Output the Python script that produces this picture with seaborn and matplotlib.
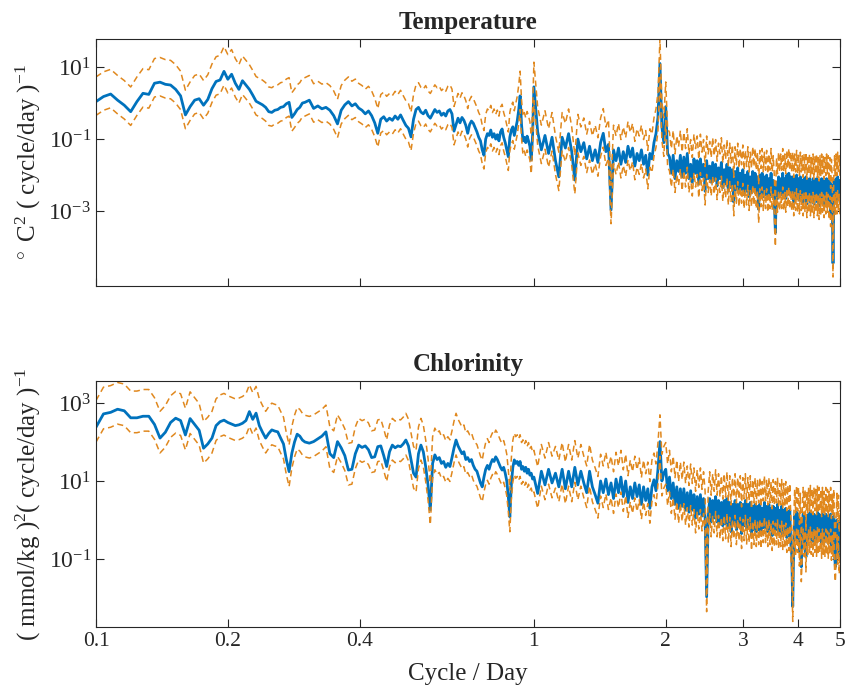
import numpy as np
import pandas as pd
import matplotlib
matplotlib.use("Agg")
import matplotlib.pyplot as plt
from matplotlib.ticker import NullLocator
import seaborn as sns

# frequency grid (cycle/day) in three stretches
freq_low = [0.100, 0.104, 0.108, 0.112, 0.116, 0.120, 0.124, 0.128, 0.132, 0.136,
            0.140, 0.144, 0.148, 0.152, 0.156, 0.160, 0.164, 0.168, 0.172, 0.176,
            0.180, 0.184, 0.188, 0.192, 0.196, 0.200, 0.204, 0.208, 0.212, 0.216,
            0.220, 0.224, 0.228, 0.232, 0.236, 0.240, 0.244, 0.248, 0.252, 0.256,
            0.260, 0.264, 0.268, 0.272, 0.276, 0.280, 0.284, 0.288, 0.292, 0.296]
freq_mid = [0.300, 0.307, 0.314, 0.321, 0.328, 0.335, 0.342, 0.349, 0.356, 0.363,
            0.370, 0.377, 0.384, 0.391, 0.398, 0.405, 0.412, 0.419, 0.426, 0.433,
            0.440, 0.447, 0.454, 0.461, 0.468, 0.475, 0.482, 0.489, 0.496, 0.503,
            0.510, 0.517, 0.524, 0.531, 0.538, 0.545, 0.552, 0.559, 0.566, 0.573,
            0.580, 0.587, 0.594, 0.601, 0.608, 0.615, 0.622, 0.629, 0.636, 0.643,
            0.650, 0.657, 0.664, 0.671, 0.678, 0.685, 0.692, 0.699, 0.706, 0.713,
            0.720, 0.727, 0.734, 0.741, 0.748, 0.755, 0.762, 0.769, 0.776, 0.783,
            0.790, 0.797, 0.804, 0.811, 0.818, 0.825, 0.832, 0.839, 0.846, 0.853,
            0.860, 0.867, 0.874, 0.881, 0.888, 0.895, 0.902, 0.909, 0.916, 0.923,
            0.930, 0.937, 0.944, 0.951, 0.958, 0.965, 0.972, 0.979, 0.986, 0.993]
freq_high = [1.00, 1.02, 1.04, 1.06, 1.08, 1.10, 1.12, 1.14, 1.16, 1.18,
             1.20, 1.22, 1.24, 1.26, 1.28, 1.30, 1.32, 1.34, 1.36, 1.38,
             1.40, 1.42, 1.44, 1.46, 1.48, 1.50, 1.52, 1.54, 1.56, 1.58,
             1.60, 1.62, 1.64, 1.66, 1.68, 1.70, 1.72, 1.74, 1.76, 1.78,
             1.80, 1.82, 1.84, 1.86, 1.88, 1.90, 1.92, 1.94, 1.96, 1.98,
             2.00, 2.02, 2.04, 2.06, 2.08, 2.10, 2.12, 2.14, 2.16, 2.18,
             2.20, 2.22, 2.24, 2.26, 2.28, 2.30, 2.32, 2.34, 2.36, 2.38,
             2.40, 2.42, 2.44, 2.46, 2.48, 2.50, 2.52, 2.54, 2.56, 2.58,
             2.60, 2.62, 2.64, 2.66, 2.68, 2.70, 2.72, 2.74, 2.76, 2.78,
             2.80, 2.82, 2.84, 2.86, 2.88, 2.90, 2.92, 2.94, 2.96, 2.98,
             3.00, 3.02, 3.04, 3.06, 3.08, 3.10, 3.12, 3.14, 3.16, 3.18,
             3.20, 3.22, 3.24, 3.26, 3.28, 3.30, 3.32, 3.34, 3.36, 3.38,
             3.40, 3.42, 3.44, 3.46, 3.48, 3.50, 3.52, 3.54, 3.56, 3.58,
             3.60, 3.62, 3.64, 3.66, 3.68, 3.70, 3.72, 3.74, 3.76, 3.78,
             3.80, 3.82, 3.84, 3.86, 3.88, 3.90, 3.92, 3.94, 3.96, 3.98,
             4.00, 4.02, 4.04, 4.06, 4.08, 4.10, 4.12, 4.14, 4.16, 4.18,
             4.20, 4.22, 4.24, 4.26, 4.28, 4.30, 4.32, 4.34, 4.36, 4.38,
             4.40, 4.42, 4.44, 4.46, 4.48, 4.50, 4.52, 4.54, 4.56, 4.58,
             4.60, 4.62, 4.64, 4.66, 4.68, 4.70, 4.72, 4.74, 4.76, 4.78,
             4.80, 4.82, 4.84, 4.86, 4.88, 4.90, 4.92, 4.94, 4.96, 4.98,
             5.00]

# temperature spectrum, log10(degC^2 per cycle/day)
temp_low = [0.04, 0.18, 0.25, 0.08, -0.06, -0.24, 0.04, 0.27, 0.24, 0.55,
            0.58, 0.52, 0.50, 0.38, 0.20, -0.33, -0.10, 0.08, 0.12, -0.06,
            0.10, 0.40, 0.60, 0.64, 0.88, 0.66, 0.80, 0.55, 0.38, 0.62,
            0.50, 0.38, 0.22, 0.05, 0.00, -0.05, -0.12, -0.24, -0.26, -0.20,
            -0.18, -0.12, -0.10, -0.02, 0.02, -0.40, -0.30, -0.18, -0.12, 0.00]
temp_mid = [0.02, 0.08, -0.15, -0.08, -0.16, -0.12, -0.20, -0.35, -0.58, -0.20,
            -0.05, 0.04, -0.08, -0.02, -0.14, -0.20, -0.30, -0.22, -0.35, -0.55,
            -0.84, -0.45, -0.38, -0.50, -0.42, -0.48, -0.36, -0.45, -0.33, -0.48,
            -0.62, -0.70, -0.94, -0.45, -0.18, -0.12, -0.25, -0.30, -0.20, -0.35,
            -0.42, -0.30, -0.18, -0.26, -0.22, -0.34, -0.28, -0.36, -0.22, -0.18,
            -0.30, -0.78, -0.60, -0.42, -0.55, -0.40, -0.48, -0.62, -0.84, -0.60,
            -0.50, -0.56, -0.68, -0.80, -0.95, -1.05, -1.30, -1.45, -1.00, -0.85,
            -0.90, -0.75, -0.95, -0.85, -1.00, -0.88, -1.05, -0.80, -0.72, -0.95,
            -1.10, -1.30, -1.49, -0.95, -0.75, -0.66, -0.90, -0.70, -0.50, -0.20,
            0.20, -0.60, -1.05, -0.95, -1.10, -0.92, -1.05, -1.20, -1.58, -0.90]
temp_high = [0.45, -0.80, -1.30, -0.90, -1.40, -0.95, -1.60, -2.05, -0.95, -1.25,
             -0.85, -1.35, -2.14, -1.00, -1.35, -1.10, -1.55, -1.20, -1.60, -1.30,
             -1.65, -1.10, -0.84, -1.35, -1.15, -2.97, -1.30, -1.60, -1.25, -1.70,
             -1.35, -1.65, -1.20, -1.50, -1.25, -1.75, -1.40, -1.60, -1.30, -1.70,
             -1.45, -2.00, -1.40, -1.55, -1.10, -0.85, -0.40, 1.10, -0.66, -1.10,
             -0.10, -1.40, -1.50, -1.95, -1.45, -2.10, -1.60, -1.90, -1.45, -2.05,
             -1.50, -1.95, -1.40, -2.10, -1.70, -2.20, -1.55, -1.95, -1.60, -2.25,
             -1.55, -2.05, -1.70, -2.45, -1.60, -2.10, -1.75, -2.20, -1.65, -2.15,
             -1.70, -2.30, -1.80, -2.10, -1.65, -2.35, -1.85, -2.25, -1.70, -2.45,
             -1.80, -2.35, -1.85, -2.75, -1.90, -2.40, -1.80, -2.50, -1.95, -2.40,
             -1.85, -2.55, -2.00, -2.45, -1.90, -2.60, -2.05, -2.50, -1.90, -2.45,
             -1.95, -2.55, -2.05, -2.95, -2.00, -2.50, -1.95, -2.60, -2.05, -2.55,
             -2.00, -2.65, -2.10, -2.55, -1.95, -2.60, -2.15, -2.70, -3.60, -2.20,
             -2.65, -2.05, -2.60, -2.10, -2.55, -1.95, -2.60, -2.10, -2.65, -2.00,
             -2.50, -1.95, -2.55, -2.05, -2.60, -2.05, -2.75, -2.10, -2.60, -2.00,
             -2.65, -2.10, -2.70, -2.05, -2.60, -2.15, -2.75, -2.10, -2.65, -2.05,
             -2.80, -2.15, -2.65, -2.10, -2.75, -2.20, -2.70, -2.10, -2.80, -2.15,
             -2.65, -2.10, -2.75, -2.20, -2.85, -2.15, -2.70, -2.10, -2.65, -2.15,
             -2.80, -2.20, -2.70, -2.10, -2.65, -2.15, -2.85, -2.20, -3.05, -2.25,
             -2.80, -4.45, -2.70, -2.15, -2.75, -2.10, -2.70, -2.05, -2.65, -2.15,
             -2.75]

# chlorinity spectrum, log10((mmol/kg)^2 per cycle/day)
chl_low = [2.38, 2.72, 2.76, 2.84, 2.80, 2.62, 2.62, 2.66, 2.66, 2.45,
           2.10, 2.25, 2.50, 2.61, 2.55, 2.18, 2.60, 2.45, 2.30, 1.84,
           1.95, 2.10, 2.42, 2.52, 2.56, 2.50, 2.46, 2.42, 2.44, 2.48,
           2.55, 2.78, 2.58, 2.74, 2.42, 2.25, 2.10, 2.22, 2.31, 2.28,
           2.26, 2.10, 1.95, 1.55, 1.24, 1.71, 2.00, 2.20, 2.15, 2.05]
chl_mid = [2.00, 1.97, 2.01, 2.08, 2.15, 2.26, 1.70, 1.60, 2.01, 1.85,
           1.65, 1.28, 1.30, 1.70, 1.92, 1.86, 1.90, 1.80, 1.60, 1.62,
           1.88, 1.90, 1.65, 1.37, 1.75, 1.92, 1.85, 1.90, 1.88, 1.95,
           2.05, 1.90, 1.55, 1.20, 1.10, 1.70, 1.92, 1.75, 1.37, 0.90,
           0.26, 1.45, 1.67, 1.55, 1.60, 1.45, 1.50, 1.35, 1.45, 1.37,
           1.60, 1.85, 2.05, 1.90, 1.80, 1.70, 1.75, 1.55, 1.60, 1.50,
           1.55, 1.40, 1.30, 1.25, 1.10, 0.95, 0.85, 1.10, 1.30, 1.40,
           1.30, 1.45, 1.55, 1.50, 1.62, 1.55, 1.45, 1.35, 1.28, 1.35,
           1.20, 1.00, 0.60, 0.08, 0.90, 1.35, 1.54, 1.45, 1.50, 1.40,
           1.50, 1.30, 1.37, 1.25, 1.35, 1.20, 1.30, 1.15, 1.20, 1.05]
chl_high = [1.10, 0.68, 1.25, 0.90, 1.30, 0.95, 1.20, 0.85, 1.30, 0.80,
            1.25, 0.85, 1.35, 0.90, 1.25, 0.95, 0.70, 1.25, 0.85, 0.65,
            0.43, 1.00, 0.70, 1.05, 0.65, 0.95, 0.55, 1.05, 0.70, 1.10,
            0.60, 1.00, 0.45, 0.85, 0.55, 0.95, 0.60, 0.90, 0.40, 0.85,
            0.50, 0.80, 0.30, 0.85, 1.03, 0.75, 1.30, 2.01, 1.00, 1.20,
            1.30, 0.75, 1.10, 0.55, 0.95, 0.40, 0.85, 0.30, 0.80, 0.35,
            0.80, 0.25, 0.70, 0.20, 0.75, 0.25, 0.65, 0.05, 0.60, 0.15,
            0.65, 0.10, 0.55, 0.05, -1.97, 0.05, 0.55, -0.05, 0.50, 0.05,
            0.60, -0.05, 0.50, -0.10, 0.45, -0.15, 0.50, -0.10, 0.55, -0.20,
            0.45, -0.30, 0.40, -0.10, 0.50, -0.25, 0.40, -0.15, 0.45, -0.35,
            0.40, -0.15, 0.50, -0.25, 0.40, -0.20, 0.45, -0.40, 0.35, -0.25,
            0.40, -0.30, 0.35, -0.25, 0.40, -0.35, 0.30, -0.20, 0.45, -0.20,
            0.35, -0.30, 0.40, -0.25, 0.30, -0.40, 0.35, -0.30, 0.30, -0.25,
            0.40, -0.35, 0.25, -0.30, 0.35, -0.40, 0.25, -0.35, 0.30, -0.45,
            0.20, -0.40, 0.25, -0.60, -0.90, -2.22, -0.70, 0.10, -0.50, 0.20,
            -0.45, 0.15, -0.80, 0.00, -1.20, -0.50, 0.15, -0.55, 0.10, -0.95,
            0.05, -0.50, 0.15, -0.45, 0.20, -0.50, 0.10, -0.55, 0.15, -0.45,
            0.10, -0.55, 0.20, -0.50, 0.15, -0.45, 0.10, -0.60, 0.15, -0.50,
            0.05, -0.55, 0.15, -0.50, 0.10, -0.60, 0.05, -0.50, 0.15, -0.65,
            0.00, -0.55, 0.10, -0.90, -1.20, -0.60, 0.00, -0.75, -0.05, -1.00,
            -0.43]

# 95% confidence band as ratio to the estimate
ci_upper_ratio = 4.85
ci_lower_ratio = 0.415

x_ticks = [0.1, 0.2, 0.4, 1, 2, 3, 4, 5]
x_ticklabels = ["0.1", "0.2", "0.4", "1", "2", "3", "4", "5"]
temp_yticks = [1e-3, 1e-1, 1e1]
temp_yticklabels = [r"$10^{-3}$", r"$10^{-1}$", r"$10^{1}$"]
chl_yticks = [1e-1, 1e1, 1e3]
chl_yticklabels = [r"$10^{-1}$", r"$10^{1}$", r"$10^{3}$"]

blue = "#0072BD"
orange = "#E0881E"

freq = freq_low + freq_mid + freq_high

sns.set_style("ticks")
plt.rcParams["font.family"] = ["Liberation Serif", "DejaVu Serif"]
plt.rcParams["mathtext.fontset"] = "custom"
plt.rcParams["mathtext.rm"] = "Liberation Serif"
plt.rcParams["mathtext.it"] = "Liberation Serif:italic"
plt.rcParams["mathtext.bf"] = "Liberation Serif:bold"

fig = plt.figure(figsize=(8.52, 6.93), dpi=100)
ax_top = fig.add_axes([0.1127, 0.5873, 0.8732, 0.3564])
ax_bot = fig.add_axes([0.1127, 0.0952, 0.8732, 0.3550])

panels = [
    (ax_top, temp_low + temp_mid + temp_high, "Temperature", (8.3e-6, 60),
     temp_yticks, temp_yticklabels, r"$^\circ$ C$^2$ ( cycle/day )$^{-1}$"),
    (ax_bot, chl_low + chl_mid + chl_high, "Chlorinity", (1.8e-3, 3660),
     chl_yticks, chl_yticklabels, r"( mmol/kg )$^2$( cycle/day )$^{-1}$"),
]

for ax, log_psd, title, ylim, yticks, yticklabels, ylabel in panels:
    psd = 10 ** np.array(log_psd)
    df = pd.DataFrame({"freq": freq, "psd": psd,
                       "upper": psd * ci_upper_ratio,
                       "lower": psd * ci_lower_ratio})
    sns.lineplot(data=df, x="freq", y="psd", ax=ax, color=blue, linewidth=2.0)
    sns.lineplot(data=df, x="freq", y="upper", ax=ax, color=orange,
                 linewidth=1.1, linestyle=(0, (4, 2.5)))
    sns.lineplot(data=df, x="freq", y="lower", ax=ax, color=orange,
                 linewidth=1.1, linestyle=(0, (4, 2.5)))
    ax.set_xscale("log")
    ax.set_yscale("log")
    ax.set_xlim(0.1, 5)
    ax.set_ylim(*ylim)
    ax.set_xticks(x_ticks)
    ax.set_xticklabels(x_ticklabels)
    ax.set_yticks(yticks)
    ax.set_yticklabels(yticklabels)
    ax.xaxis.set_minor_locator(NullLocator())
    ax.yaxis.set_minor_locator(NullLocator())
    ax.tick_params(direction="in", top=True, right=True, length=6, width=0.8,
                   color="#262626", labelcolor="#262626")
    ax.tick_params(axis="x", labelsize=15.5)
    ax.tick_params(axis="y", labelsize=17)
    for sp in ax.spines.values():
        sp.set_visible(True)
        sp.set_color("#262626")
        sp.set_linewidth(0.8)
    ax.set_title(title, fontsize=18, fontweight="bold", pad=7)
    ax.set_ylabel(ylabel, fontsize=18, color="#262626", labelpad=4)
    ax.set_xlabel("")

ax_top.tick_params(labelbottom=False)
ax_bot.set_xlabel("Cycle / Day", fontsize=18, color="#262626", labelpad=9)

fig.savefig("out.png", dpi=100)
